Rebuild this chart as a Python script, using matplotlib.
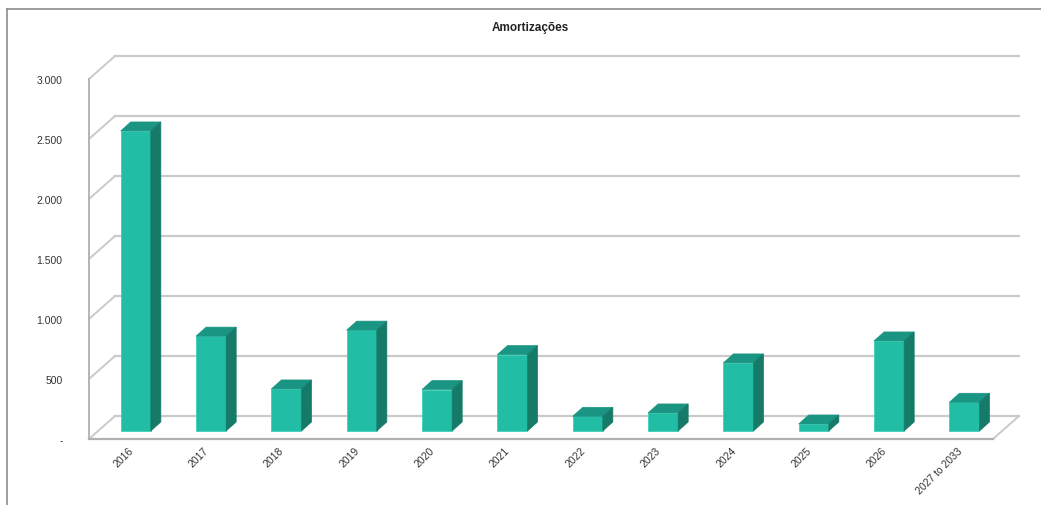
import matplotlib
matplotlib.use("Agg")
import matplotlib.pyplot as plt
from matplotlib.patches import Polygon
from matplotlib.lines import Line2D

plt.rcParams['font.family'] = ['Liberation Sans', 'DejaVu Sans']

# ---- data ----
categories = ["2016", "2017", "2018", "2019", "2020", "2021", "2022",
              "2023", "2024", "2025", "2026", "2027 to 2033"]
values = [2500, 790, 350, 840, 345, 636, 122, 150, 567, 58, 750, 239]
ytick_values = [0, 500, 1000, 1500, 2000, 2500, 3000]
ytick_labels = ["-", "500", "1.000", "1.500", "2.000", "2.500", "3.000"]
title = "Amortizações"

# ---- style ----
c_front = "#21BDA5"
c_top = "#1A9583"
c_side = "#167A69"
grid_c = "#CACACA"
axis_c = "#B0B0B0"
text_c = "#333333"

W, H = 1041, 506
fig = plt.figure(figsize=(W / 100, H / 100), dpi=100)
ax = fig.add_axes([89 / W, 66 / H, 904 / W, 360 / H])
n = len(categories)
ax.set_xlim(-0.5, n - 0.5)
ax.set_ylim(0, 3000)

# depth offsets in data units
Dx = 0.345
Dy = 191.7

# back wall gridlines + left wall diagonals
for v in ytick_values:
    ax.add_line(Line2D([-0.5 + Dx, n - 0.5 + Dx], [v + Dy, v + Dy],
                       color=grid_c, lw=1.6, clip_on=False, zorder=1))
    ax.add_line(Line2D([-0.5, -0.5 + Dx], [v, v + Dy],
                       color=grid_c, lw=1.4, clip_on=False, zorder=1))
# floor right diagonal
ax.add_line(Line2D([n - 0.5, n - 0.5 + Dx], [0, Dy],
                   color=grid_c, lw=1.4, clip_on=False, zorder=1))

# bars (3D effect)
f1 = 0.35
bw = 0.40
bdx = 0.133
bdy = 75
for i, v in enumerate(values):
    x0 = i - bw / 2 + f1 * Dx
    x1 = x0 + bw
    yb = f1 * Dy
    yt = yb + v
    front = Polygon([(x0, yb), (x1, yb), (x1, yt), (x0, yt)],
                    closed=True, fc=c_front, ec="#3FD0B8", lw=0.6,
                    clip_on=False, zorder=3)
    top = Polygon([(x0, yt), (x1, yt), (x1 + bdx, yt + bdy), (x0 + bdx, yt + bdy)],
                  closed=True, fc=c_top, ec=c_top, lw=0.5, clip_on=False, zorder=3)
    side = Polygon([(x1, yb), (x1 + bdx, yb + bdy), (x1 + bdx, yt + bdy), (x1, yt)],
                   closed=True, fc=c_side, ec=c_side, lw=0.5, clip_on=False, zorder=3)
    for p in (front, top, side):
        ax.add_patch(p)

# axes styling
for s in ("top", "right"):
    ax.spines[s].set_visible(False)
ax.spines["left"].set_color(axis_c)
ax.spines["bottom"].set_color(axis_c)
ax.spines["left"].set_linewidth(1.3)
ax.spines["bottom"].set_linewidth(1.6)
ax.spines["left"].set_zorder(2)

ax.set_yticks(ytick_values)
ax.set_yticklabels(ytick_labels, fontsize=7.5, color=text_c)
ax.tick_params(axis="y", length=0, pad=19)
ax.set_xticks(range(n))
ax.set_xticklabels(categories, fontsize=7.5, color=text_c, rotation=45,
                   ha="right", va="center", rotation_mode="anchor")
ax.tick_params(axis="x", length=0, pad=7)
from matplotlib.transforms import ScaledTranslation
off = ScaledTranslation(5 / 100, 0, fig.dpi_scale_trans)
for lbl in ax.get_xticklabels():
    lbl.set_transform(lbl.get_transform() + off)
ax.set_facecolor("none")

fig.text(530 / W, 1 - 28 / H, title, ha="center", va="center",
         fontsize=8.5, fontweight="bold", color="#222222")

# outer border (left and top)
fig.add_artist(Line2D([7 / W, 7 / W], [0, 1 - 10 / H], transform=fig.transFigure,
                      color="#8C8C8C", lw=1.2))
fig.add_artist(Line2D([7 / W, 1], [1 - 10 / H, 1 - 10 / H], transform=fig.transFigure,
                      color="#8C8C8C", lw=1.2))

fig.savefig("out.png", dpi=100)
